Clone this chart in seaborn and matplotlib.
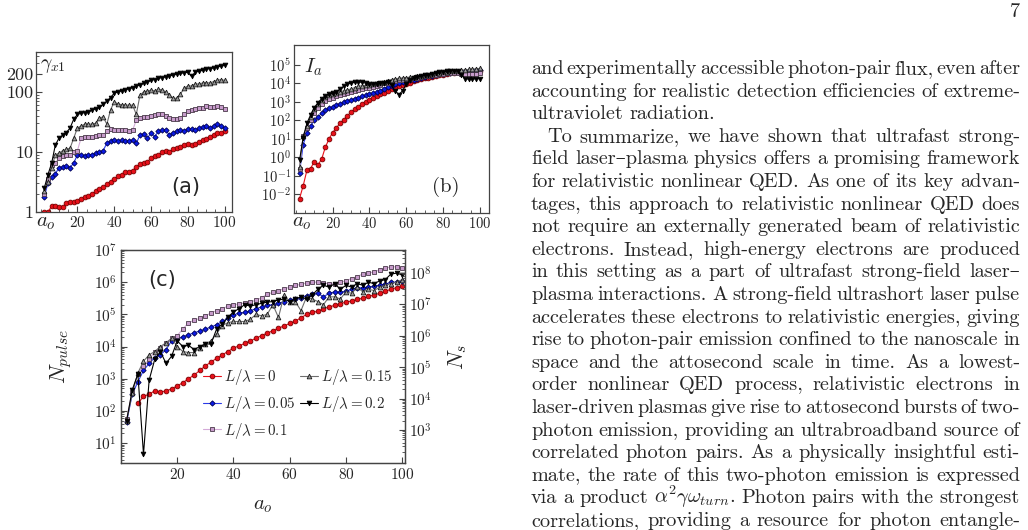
"""
Three log-scale panels (gamma_x1, I_a, N_pulse / N_s versus a_o) for five values of L/lambda,
plus the neighbouring column of the paper page, drawn with seaborn.
"""
import matplotlib
matplotlib.use('Agg')
import numpy as np
import seaborn as sns
import matplotlib.pyplot as plt
from matplotlib.ticker import (FixedLocator, FixedFormatter, LogLocator,
                               NullFormatter, NullLocator, MultipleLocator)

# ---- data -----------------------------------------------------------------
a0 = np.arange(2, 101, 2)
series_labels = [r'$L/\lambda=0$', r'$L/\lambda=0.05$', r'$L/\lambda=0.1$',
                 r'$L/\lambda=0.15$', r'$L/\lambda=0.2$']

# (a) gamma_x1
gam_red = [1.0, 1.0, 1.25, 1.25, 1.2, 1.2, 1.4, 1.45, 1.45, 1.55,
           1.65, 1.75, 1.85, 2.0, 2.2, 2.4, 2.6, 2.9, 3.2, 3.6,
           3.9, 4.2, 4.6, 4.7, 4.9, 5.6, 6.3, 6.6, 6.9, 7.8,
           8.5, 9.0, 9.8, 10.3, 9.9, 11.2, 11.6, 12.2, 13.2, 13.4,
           12.8, 13.6, 14.6, 15.6, 16.6, 17.8, 19.2, 21, 20.5, 22]
gam_blue = [1.8, 3.0, 3.8, 4.3, 5.5, 5.6, 5.8, 5.5, 6.5, 9.0,
            9.0, 8.5, 9.0, 9.0, 9.5, 10.0, 10.5, 14.0, 15.0, 16.0,
            15.0, 15.5, 15.0, 15.0, 15.5, 14.0, 19.0, 20.0, 17.0, 20.5,
            18.0, 22.0, 23.0, 23.0, 19.0, 21.0, 22.0, 23.0, 22.0, 24.0,
            24.0, 23.0, 25.0, 26.0, 27.0, 25.0, 27.0, 29.0, 27.0, 25.0]
gam_pink = [2.0, 3.5, 6.0, 6.5, 8.0, 8.5, 9.0, 9.0, 10.0, 10.5,
            17, 17.5, 18, 18, 18.5, 19, 19, 22, 24, 23,
            23, 23, 23, 22, 23, 34, 37, 38, 38, 40,
            41, 42, 42, 40, 36, 35, 35, 37, 42, 48,
            50, 52, 53, 53, 57, 56, 55, 57, 56, 52]
gam_gray = [2.2, 3.2, 5.5, 9, 9.5, 10.5, 11, 11.5, 17, 25,
            27, 29, 29, 29, 30, 37, 38, 29, 50, 68,
            63, 61, 60, 60, 60, 42, 88, 100, 102, 107,
            103, 110, 108, 100, 90, 78, 78, 92, 115, 125,
            125, 135, 135, 140, 142, 140, 148, 155, 160, 155]
gam_black = [2.5, 4.2, 6.5, 13, 17, 19, 21, 25, 35, 42,
             44, 45, 46, 50, 52, 55, 62, 70, 80, 95,
             100, 104, 108, 113, 118, 124, 130, 138, 146, 155,
             160, 167, 173, 178, 185, 190, 196, 202, 208, 212,
             180, 212, 220, 228, 236, 244, 252, 260, 268, 275]

# (b) I_a
ia_red = [0.006, 0.03, 0.2, 0.25, 0.6, 0.4, 0.8, 3.5, 10, 22,
          40, 70, 110, 180, 280, 400, 550, 800, 1000, 1300,
          1700, 2100, 2600, 3200, 4000, 5000, 6000, 7000, 8000, 9500,
          11000, 13000, 15000, 17000, 19000, 21000, 23000, 25000, 28000, 30000,
          32000, 35000, 37000, 40000, 40000, 38000, 40000, 42000, 43000, 45000]
ia_blue = [0.15, 5, 20, 50, 100, 150, 250, 350, 450, 550,
           650, 800, 950, 1100, 1300, 1500, 1700, 2000, 2300, 2600,
           3000, 3400, 4000, 5000, 6500, 7500, 9000, 10500, 12000, 13000,
           14500, 16000, 18000, 20000, 22000, 24000, 26000, 29000, 31000, 33000,
           35000, 37000, 40000, 42000, 44000, 46000, 48000, 50000, 52000, 55000]
ia_pink = [0.25, 15, 40, 100, 250, 500, 800, 1100, 1400, 1700,
           2000, 2300, 2700, 3000, 3500, 4000, 4500, 5000, 5500, 6000,
           6500, 7500, 8500, 10000, 11000, 12000, 13500, 15000, 16000, 17000,
           18000, 19000, 20000, 22000, 24000, 26000, 28000, 30000, 32000, 33000,
           35000, 37000, 38000, 36000, 34000, 33000, 32000, 33000, 34000, 35000]
ia_gray = [0.3, 15, 50, 150, 400, 800, 1300, 1800, 2300, 2700,
           3000, 3500, 4000, 4500, 5000, 6000, 7000, 7500, 8000, 8500,
           9000, 10000, 11000, 12000, 14000, 16000, 18000, 19000, 20000, 21000,
           22000, 23000, 24000, 26000, 28000, 30000, 32000, 35000, 38000, 40000,
           42000, 45000, 48000, 50000, 52000, 55000, 57000, 60000, 62000, 65000]
ia_black = [0.7, 12, 70, 200, 500, 900, 1500, 2200, 2600, 3000,
            3500, 5000, 7000, 9000, 10500, 11500, 12000, 11500, 10500, 9500,
            9000, 9500, 10000, 11000, 12000, 8000, 4000, 2500, 4000, 9000,
            15000, 19000, 22000, 25000, 28000, 30000, 33000, 36000, 40000, 43000,
            46000, 48000, 50000, 45000, 30000, 18000, 17000, 17000, 18000, 18000]

# (c) N_pulse
np_red = [np.nan, np.nan, 170, 280, 330, 420, 380, 420, 480, 600,
          750, 1000, 1300, 1800, 2500, 3300, 4300, 5500, 7000, 9000,
          10500, 12500, 15000, 18000, 22000, 26000, 31000, 37000, 44000, 52000,
          62000, 78000, 100000, 115000, 125000, 150000, 170000, 190000, 215000, 240000,
          260000, 290000, 320000, 360000, 400000, 450000, 520000, 600000, 680000, 750000]
np_blue = [45, 330, 800, 1800, 3000, 4500, 5500, 8000, 15000, 18000,
           20000, 23000, 27000, 30000, 35000, 40000, 48000, 60000, 75000, 95000,
           110000, 115000, 130000, 150000, 170000, 190000, 200000, 220000, 250000, 280000,
           310000, 330000, 380000, 420000, 450000, 350000, 450000, 500000, 480000, 520000,
           600000, 650000, 680000, 700000, 750000, 800000, 850000, 1000000, 1000000, 1050000]
np_pink = [55, 400, 1400, 2500, 4000, 7000, 9000, 13000, 18000, 22000,
           35000, 55000, 65000, 75000, 90000, 110000, 130000, 150000, 180000, 200000,
           210000, 230000, 250000, 270000, 330000, 420000, 480000, 550000, 620000, 700000,
           800000, 850000, 950000, 1000000, 1000000, 950000, 900000, 900000, 1000000, 1100000,
           1300000, 1500000, 1800000, 1900000, 2100000, 2400000, 2700000, 3000000, 3000000, 2700000]
np_gray = [50, 350, 1500, 3500, 5500, 7000, 10000, 13000, 18000, 10000,
           7000, 6500, 6500, 9000, 12000, 15000, 25000, 45000, 55000, 60000,
           60000, 60000, 70000, 100000, 90000, 100000, 200000, 80000, 400000, 250000,
           250000, 130000, 350000, 300000, 250000, 200000, 350000, 350000, 300000, 500000,
           450000, 700000, 500000, 600000, 550000, 700000, 800000, 900000, 1000000, 1200000]
np_black = [50, 450, 1400, 4.5, 900, 4000, 7000, 3000, 5000, 15000,
            10000, 11000, 8000, 10000, 12000, 12000, 35000, 50000, 80000, 120000,
            150000, 200000, 180000, 200000, 220000, 240000, 250000, 280000, 300000, 250000,
            300000, 350000, 300000, 400000, 600000, 800000, 700000, 900000, 600000, 800000,
            700000, 900000, 800000, 1000000, 900000, 1100000, 1200000, 1800000, 1900000, 1700000]

# ---- style -----------------------------------------------------------------
sns.set_style('ticks')
plt.rcParams['font.family'] = ['cmr10', 'DejaVu Serif']
plt.rcParams['mathtext.fontset'] = 'cm'
plt.rcParams['axes.formatter.use_mathtext'] = True
plt.rcParams['axes.unicode_minus'] = False

styles = [  # marker, size factor, face, edge, line colour
    ('o', 1.0, '#e8101a', '#7a0000', '#e8101a'),
    ('D', 0.8, '#0a1ae6', '#000050', '#2a3ae8'),
    ('s', 0.95, '#c79bcb', '#4a3a4a', '#d4aad8'),
    ('^', 1.0, '#9c9c9c', '#1a1a1a', '#6e6e6e'),
    ('v', 1.0, '#000000', '#000000', '#000000'),
]
frame_col = '#444444'

W, H = 1028, 530
fig = plt.figure(figsize=(W / 100, H / 100), dpi=100)


def box(l, t, r, b):
    return [l / W, 1 - b / H, (r - l) / W, (b - t) / H]


def fx(x):
    return x / W


def fy(y):
    return 1 - y / H


def draw_series(ax, data, ms, with_label=False):
    for vals, (mk, k, fc, ec, lc), lab in zip(data, styles, series_labels):
        sns.lineplot(x=a0, y=np.array(vals, dtype=float), ax=ax, color=lc,
                     marker=mk, markersize=ms * k, markerfacecolor=fc,
                     markeredgecolor=ec, markeredgewidth=0.6, linewidth=0.8,
                     label=lab if with_label else None, legend=False)


def frame(ax):
    for sp in ax.spines.values():
        sp.set_visible(True)
        sp.set_color(frame_col)
        sp.set_linewidth(0.9)
    ax.tick_params(which='both', direction='in', color=frame_col,
                   top=False, right=False)
    ax.tick_params(which='major', length=4)
    ax.tick_params(which='minor', length=2)


ax_a = fig.add_axes(box(36, 52, 232, 212))
ax_b = fig.add_axes(box(294, 45, 489, 213))
ax_c = fig.add_axes(box(121, 250, 405, 463))

# (a)
draw_series(ax_a, [gam_red, gam_blue, gam_pink, gam_gray, gam_black], 3.4)
ax_a.set_yscale('log')
ax_a.set_ylim(1, 460)
ax_a.set_xlim(-2.5, 104)
ax_a.yaxis.set_major_locator(FixedLocator([1, 10, 100, 200]))
ax_a.yaxis.set_major_formatter(FixedFormatter(['1', '10', '100', '200']))
ax_a.yaxis.set_minor_locator(LogLocator(subs=np.arange(2, 10)))
ax_a.yaxis.set_minor_formatter(NullFormatter())
ax_a.set_xticks([20, 40, 60, 80, 100])
ax_a.xaxis.set_minor_locator(MultipleLocator(5))
frame(ax_a)
ax_a.tick_params(axis='y', labelsize=13, pad=2)
ax_a.tick_params(axis='x', labelsize=11, pad=2)
ax_a.set_xlabel('')
ax_a.set_ylabel('')
ax_a.text(fx(46), fy(223), r'$a_o$', transform=fig.transFigure,
          fontsize=15, ha='center', va='center')
ax_a.text(fx(53), fy(66), r'$\gamma_{x1}$', transform=fig.transFigure,
          fontsize=14, ha='center', va='center')
ax_a.text(fx(186), fy(187), '(a)', transform=fig.transFigure, fontsize=15,
          ha='center', va='center', family='DejaVu Sans')

# (b)
draw_series(ax_b, [ia_red, ia_blue, ia_pink, ia_gray, ia_black], 3.4)
ax_b.set_yscale('log')
ax_b.set_ylim(1e-3, 1.2e6)
ax_b.set_xlim(-1, 105)
ax_b.yaxis.set_major_locator(FixedLocator([1e-2, 1e-1, 1, 1e1, 1e2, 1e3, 1e4, 1e5]))
ax_b.yaxis.set_minor_locator(NullLocator())
ax_b.set_xticks([20, 40, 60, 80, 100])
ax_b.xaxis.set_minor_locator(MultipleLocator(5))
frame(ax_b)
ax_b.tick_params(axis='both', labelsize=10.5, pad=2)
ax_b.set_xlabel('')
ax_b.set_ylabel('')
ax_b.text(fx(302), fy(223), r'$a_o$', transform=fig.transFigure,
          fontsize=15, ha='center', va='center')
ax_b.text(fx(313), fy(67), r'$I_a$', transform=fig.transFigure,
          fontsize=15, ha='center', va='center')
ax_b.text(fx(446), fy(187), '(b)', transform=fig.transFigure, fontsize=15,
          ha='center', va='center')

# (c)
draw_series(ax_c, [np_red, np_blue, np_pink, np_gray, np_black], 3.4, with_label=True)
ax_c.set_yscale('log')
ax_c.set_ylim(2.4, 1e7)
ax_c.set_xlim(0, 101)
ax_c.yaxis.set_major_locator(FixedLocator([1e1, 1e2, 1e3, 1e4, 1e5, 1e6, 1e7]))
ax_c.yaxis.set_minor_locator(LogLocator(subs=np.arange(2, 10), numticks=20))
ax_c.yaxis.set_minor_formatter(NullFormatter())
ax_c.set_xticks([20, 40, 60, 80, 100])
frame(ax_c)
ax_c.tick_params(axis='both', labelsize=11, pad=3)
ax_c.set_xlabel(r'$a_o$', fontsize=15)
ax_c.xaxis.set_label_coords(0.5, -0.16)
ax_c.set_ylabel(r'$N_{pulse}$', fontsize=16)
ax_c.yaxis.set_label_coords(-0.165, 0.5)
ax_c.text(fx(162), fy(280), '(c)', transform=fig.transFigure, fontsize=15,
          ha='center', va='center', family='DejaVu Sans')
ax_c.legend(loc='upper left', bbox_to_anchor=(0.29, 0.45), ncol=2,
            frameon=False, fontsize=10.8, handlelength=1.2, handletextpad=0.2,
            columnspacing=0.3, labelspacing=0.45, borderaxespad=0,
            borderpad=0)

ax_c2 = ax_c.twinx()
ax_c2.set_yscale('log')
ax_c2.set_ylim(10 ** 1.95, 10 ** 8.73)
ax_c2.yaxis.set_major_locator(FixedLocator([1e3, 1e4, 1e5, 1e6, 1e7, 1e8]))
ax_c2.yaxis.set_minor_locator(LogLocator(subs=np.arange(2, 10), numticks=20))
ax_c2.yaxis.set_minor_formatter(NullFormatter())
for sp in ax_c2.spines.values():
    sp.set_color(frame_col)
    sp.set_linewidth(0.9)
ax_c2.tick_params(which='both', direction='in', color=frame_col, labelsize=11, pad=3)
ax_c2.tick_params(which='major', length=4)
ax_c2.tick_params(which='minor', length=2)
ax_c2.set_ylabel(r'$N_s$', fontsize=16, rotation=90)
ax_c2.yaxis.set_label_coords(1.145, 0.5)
ax_c2.grid(False)

# ---- text column of the page ----------------------------------------------
body = [
    ("and experimentally accessible photon-pair flux, even after", False, False),
    ("accounting for realistic detection efficiencies of extreme-", False, False),
    ("ultraviolet radiation.", False, True),
    ("To summarize, we have shown that ultrafast strong-", True, False),
    ("field laser\u2013plasma physics offers a promising framework", False, False),
    ("for relativistic nonlinear QED. As one of its key advan-", False, False),
    ("tages, this approach to relativistic nonlinear QED does", False, False),
    ("not require an externally generated beam of relativistic", False, False),
    ("electrons.  Instead, high-energy electrons are produced", False, False),
    ("in this setting as a part of ultrafast strong-field laser\u2013", False, False),
    ("plasma interactions. A strong-field ultrashort laser pulse", False, False),
    ("accelerates these electrons to relativistic energies, giving", False, False),
    ("rise to photon-pair emission confined to the nanoscale in", False, False),
    ("space and the attosecond scale in time.  As a lowest-", False, False),
    ("order nonlinear QED process, relativistic electrons in", False, False),
    ("laser-driven plasmas give rise to attosecond bursts of two-", False, False),
    ("photon emission, providing an ultrabroadband source of", False, False),
    ("correlated photon pairs.  As a physically insightful esti-", False, False),
    ("mate, the rate of this two-photon emission is expressed", False, False),
    (r"via a product $\alpha^2\gamma\omega_{turn}$. Photon pairs with the strongest", False, False),
    ("correlations, providing a resource for photon entangle-", False, False),
]
x_left, x_right, indent = 531, 1020, 16
y_first, line_step = 74, 22.6
renderer = fig.canvas.get_renderer()


def width_px(s, size):
    t = fig.text(0, 0, s, fontsize=size)
    w = t.get_window_extent(renderer).width
    t.remove()
    return w


ratios = []
for line, ind, last in body:
    if not last and '$' not in line:
        avail = x_right - x_left - (indent if ind else 0)
        ratios.append(avail / width_px(' '.join(line.split()), 10))
body_size = 10 * float(np.median(ratios))

for i, (line, ind, last) in enumerate(body):
    words = line.split()
    y = fy(y_first + i * line_step)
    texts = [fig.text(0, y, w, fontsize=body_size, va='baseline') for w in words]
    widths = [t.get_window_extent(renderer).width for t in texts]
    x0 = x_left + (indent if ind else 0)
    if last:
        gap = 0.333 * body_size * 100 / 72
    else:
        gap = (x_right - x0 - sum(widths)) / (len(words) - 1)
    x = x0
    for t, w in zip(texts, widths):
        t.set_x(fx(x))
        x += w + gap

fig.text(fx(1020), fy(12), '7', fontsize=body_size, ha='right', va='center')

fig.savefig('out.png', dpi=100)
